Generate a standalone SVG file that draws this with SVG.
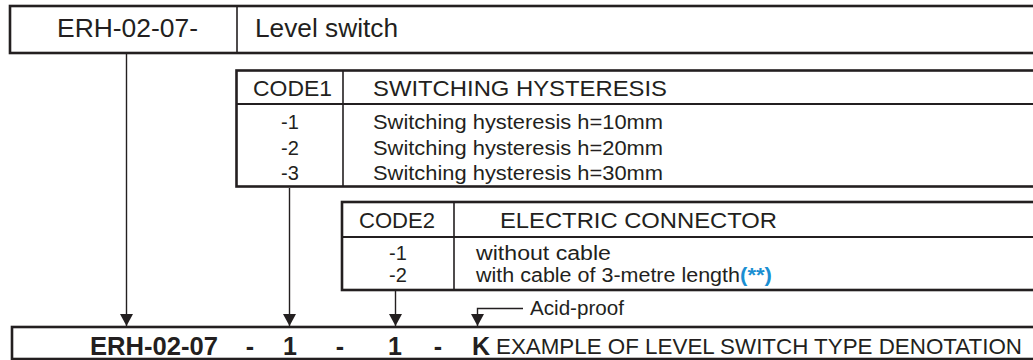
<svg xmlns="http://www.w3.org/2000/svg" width="1033" height="360" viewBox="0 0 1033 360">
  <style>
    .box { fill: #ffffff; stroke: #231f20; stroke-width: 2.6; }
    .div { stroke: #231f20; stroke-width: 1.6; fill: none; }
    .hdiv { stroke: #231f20; stroke-width: 2.2; fill: none; }
    .conn { stroke: #231f20; stroke-width: 1.4; fill: none; }
    text { font-family: "Liberation Sans", Arial, sans-serif; fill: #231f20; }
    .t25 { font-size: 25px; }
    .hd { font-size: 22px; }
    .row { font-size: 20px; }
    .b25 { font-size: 25px; font-weight: bold; }
    .blue { fill: #1b8fd2; font-weight: bold; }
  </style>
  <defs>
    <marker id="arr" viewBox="0 0 12 13" refX="12" refY="6.5" markerWidth="12" markerHeight="13" markerUnits="userSpaceOnUse" orient="auto">
      <path d="M0,0 L12,6.5 L0,13 z" fill="#231f20"/>
    </marker>
  </defs>
  <rect width="1033" height="360" fill="#ffffff"/>

  <g id="node-title">
    <rect class="box" x="10" y="6" width="1040" height="47"/>
    <line class="div" x1="237" y1="6" x2="237" y2="53"/>
    <text class="t25" x="57" y="37" textLength="141" lengthAdjust="spacingAndGlyphs">ERH-02-07-</text>
    <text class="t25" x="255" y="37" textLength="143" lengthAdjust="spacingAndGlyphs">Level switch</text>
  </g>

  <g id="node-code1">
    <rect class="box" x="236.5" y="70.5" width="820" height="116"/>
    <line class="hdiv" x1="236.5" y1="104" x2="1050" y2="104"/>
    <line class="div" x1="343" y1="70.5" x2="343" y2="186.5"/>
    <text class="hd" x="253" y="96" textLength="79" lengthAdjust="spacingAndGlyphs">CODE1</text>
    <text class="hd" x="373" y="96" textLength="294" lengthAdjust="spacingAndGlyphs">SWITCHING HYSTERESIS</text>
    <text class="row" x="290" y="129" text-anchor="middle">-1</text>
    <text class="row" x="290" y="155" text-anchor="middle">-2</text>
    <text class="row" x="290" y="180" text-anchor="middle">-3</text>
    <text class="row" x="373" y="129" textLength="290" lengthAdjust="spacingAndGlyphs">Switching hysteresis h=10mm</text>
    <text class="row" x="373" y="155" textLength="290" lengthAdjust="spacingAndGlyphs">Switching hysteresis h=20mm</text>
    <text class="row" x="373" y="180" textLength="290" lengthAdjust="spacingAndGlyphs">Switching hysteresis h=30mm</text>
  </g>

  <g id="node-code2">
    <rect class="box" x="342" y="202" width="720" height="88"/>
    <line class="hdiv" x1="342" y1="237" x2="1050" y2="237"/>
    <line class="div" x1="454" y1="202" x2="454" y2="290"/>
    <text class="hd" x="359" y="228" textLength="76" lengthAdjust="spacingAndGlyphs">CODE2</text>
    <text class="hd" x="500" y="228" textLength="277" lengthAdjust="spacingAndGlyphs">ELECTRIC CONNECTOR</text>
    <text class="row" x="398" y="260" text-anchor="middle">-1</text>
    <text class="row" x="398" y="282" text-anchor="middle">-2</text>
    <text class="row" x="476" y="260" textLength="135" lengthAdjust="spacingAndGlyphs">without cable</text>
    <text class="row" x="476" y="282"><tspan textLength="264" lengthAdjust="spacingAndGlyphs">with cable of 3-metre length</tspan><tspan class="blue" textLength="32" lengthAdjust="spacingAndGlyphs">(**)</tspan></text>
  </g>

  <g id="node-example">
    <rect class="box" x="12" y="327" width="1040" height="32"/>
    <text class="b25" x="90" y="355" textLength="128" lengthAdjust="spacingAndGlyphs">ERH-02-07</text>
    <text class="b25" x="250" y="355" text-anchor="middle">-</text>
    <text class="b25" x="290" y="355" text-anchor="middle">1</text>
    <text class="b25" x="340" y="355" text-anchor="middle">-</text>
    <text class="b25" x="395" y="355" text-anchor="middle">1</text>
    <text class="b25" x="438" y="355" text-anchor="middle">-</text>
    <text class="b25" x="472" y="355">K</text>
    <text class="hd" x="496" y="354" textLength="526" lengthAdjust="spacingAndGlyphs">EXAMPLE OF LEVEL SWITCH TYPE DENOTATION</text>
  </g>

  <g id="node-acid">
    <text class="row" x="530" y="315" textLength="94" lengthAdjust="spacingAndGlyphs">Acid-proof</text>
  </g>

  <g id="connectors">
    <line class="conn" x1="126.5" y1="54" x2="126.5" y2="326" marker-end="url(#arr)"/>
    <line class="conn" x1="289.5" y1="188" x2="289.5" y2="326" marker-end="url(#arr)"/>
    <line class="conn" x1="395.5" y1="291" x2="395.5" y2="326" marker-end="url(#arr)"/>
    <polyline class="conn" points="523,308.5 477.5,308.5 477.5,326" marker-end="url(#arr)"/>
  </g>
</svg>
